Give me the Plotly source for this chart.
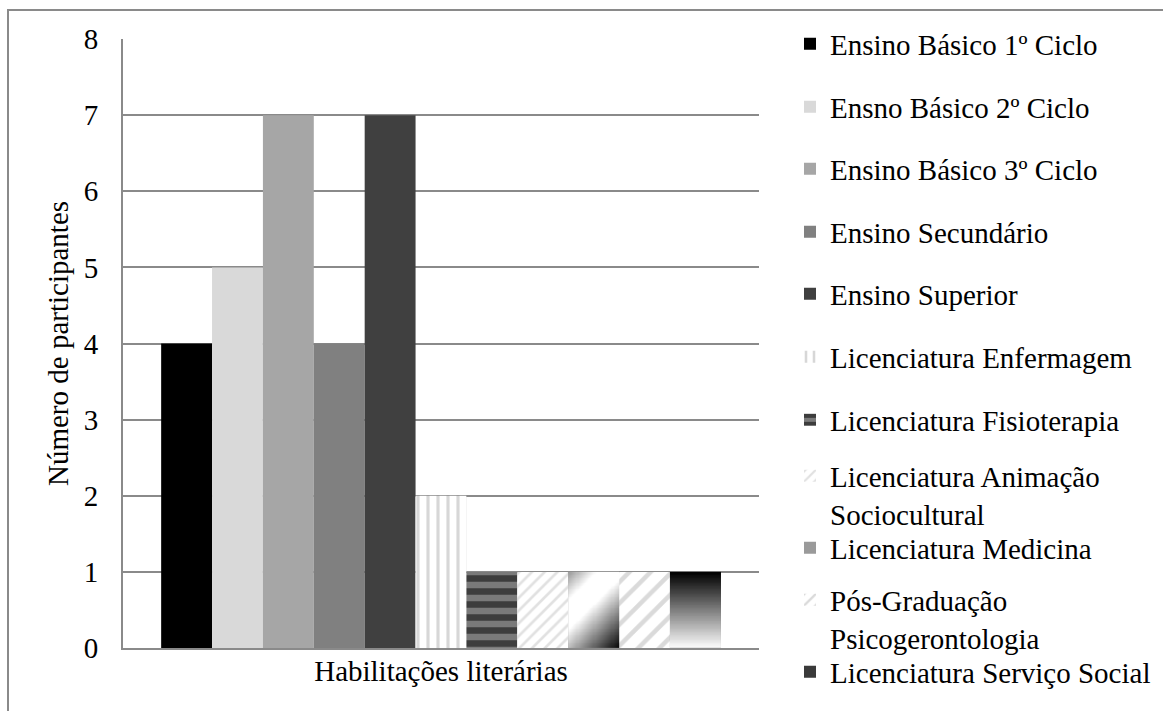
import numpy as np
import plotly.graph_objects as go

# ---- data -------------------------------------------------------------
category_label = "Habilitações literárias"
series_names = [
    "Ensino Básico 1º Ciclo",
    "Ensno Básico 2º Ciclo",
    "Ensino Básico 3º Ciclo",
    "Ensino Secundário",
    "Ensino Superior",
    "Licenciatura Enfermagem",
    "Licenciatura Fisioterapia",
    "Licenciatura Animação<br>Sociocultural",
    "Licenciatura Medicina",
    "Pós-Graduação<br>Psicogerontologia",
    "Licenciatura Serviço Social",
]
series_values = [4, 5, 7, 4, 7, 2, 1, 1, 1, 1, 1]
y_tick_values = [0, 1, 2, 3, 4, 5, 6, 7, 8]

# ---- styles -----------------------------------------------------------
FONT = "Liberation Serif, Times New Roman, serif"
FS = 29
GRID = "#8a8a8a"

bar_colors = ["#000000", "#d9d9d9", "#a6a6a6", "#808080", "#404040",
              "#ffffff", "#808080", "#ffffff", "#9a9a9a", "#ffffff", "#3a3a3a"]
bar_patterns = [
    None, None, None, None, None,
    dict(shape="|", fgcolor="#b0b0b0", bgcolor="#ffffff", size=10, solidity=0.32),
    dict(shape="-", fgcolor="#000000", bgcolor="#7a7a7a", size=13, solidity=0.5),
    dict(shape="/", fgcolor="#c4c4c4", bgcolor="#ffffff", size=9, solidity=0.3),
    None,
    dict(shape="/", fgcolor="#b5b5b5", bgcolor="#ffffff", size=15, solidity=0.3),
    None,
]
# gradient-filled series: index -> kind
gradient_series = {8: "diagonal", 10: "vertical"}

# pixel geometry of the plotting area
W, H = 1163, 711
ML, MR, MT, MB = 123, 404, 39, 63
PW, PH = W - ML - MR, H - MT - MB
x_range = [-1.25, 10 + 1.25]
y_range = [0, 8]

# first-line centre of each legend entry (px from top)
legend_rows = [44, 107, 169, 232, 294, 357, 420, 476, 548, 600, 672]
legend_left_px = 790
LINE_STEP = 1.3 * FS  # plotly line height for multi-line legend text


def px_to_paper_x(px):
    return (px - ML) / PW


def px_to_paper_y(py):
    return (H - MB - py) / PH


fig = go.Figure()

for k, (name, val) in enumerate(zip(series_names, series_values)):
    marker = dict(color=bar_colors[k], line=dict(width=0))
    if bar_patterns[k] is not None:
        marker["pattern"] = bar_patterns[k]
    fig.add_trace(go.Bar(
        x=[k], y=[val], width=1, name=name, marker=marker,
        legend="legend" if k == 0 else f"legend{k + 1}",
        hoverinfo="name+y",
    ))

# gradient fills drawn on an overlaid axis pair so they sit above the bars
unit_px = PW / (x_range[1] - x_range[0])
for k, kind in gradient_series.items():
    val = series_values[k]
    n = 48
    xe = np.linspace(k - 0.5, k + 0.5, n + 1)
    ye = np.linspace(0, val, n + 1)
    u = (np.arange(n) + 0.5) / n
    uu, ww = np.meshgrid(u, u)  # uu: left->right, ww: bottom->top
    if kind == "diagonal":
        bw, bh = unit_px, val * PH / (y_range[1] - y_range[0])
        z = (uu * bw + (1 - ww) * bh) / (bw + bh)
        cs = [[0, "#9a9a9a"], [0.22, "#ffffff"], [0.45, "#ffffff"], [1, "#000000"]]
    else:
        z = ww  # dark at the top, fading to white at the base
        cs = [[0, "#ffffff"], [1, "#000000"]]
    fig.add_trace(go.Heatmap(
        x=xe, y=ye, z=z, colorscale=cs, zmin=0, zmax=1, zsmooth="best",
        showscale=False, hoverinfo="skip", showlegend=False,
        xaxis="x2", yaxis="y2",
    ))

axis_font = dict(family=FONT, size=FS, color="#000000")

layout = dict(
    width=W, height=H,
    margin=dict(l=ML, r=MR, t=MT, b=MB, pad=0, autoexpand=False),
    paper_bgcolor="#ffffff", plot_bgcolor="#ffffff",
    barmode="overlay",
    font=axis_font,
    xaxis=dict(
        range=x_range, tickvals=[5], ticktext=[category_label],
        showgrid=False, zeroline=False, showline=True, linecolor=GRID, linewidth=2,
        ticks="", tickfont=axis_font, ticklabelstandoff=-4, automargin=False,
    ),
    yaxis=dict(
        range=y_range, tickvals=y_tick_values, showgrid=True, gridcolor=GRID,
        gridwidth=1.5, zeroline=False, showline=True, linecolor=GRID, linewidth=2,
        ticks="", tickfont=axis_font, ticklabelstandoff=17, automargin=False,
        title=dict(text="Número de participantes", font=axis_font, standoff=7),
    ),
    xaxis2=dict(range=x_range, overlaying="x", visible=False),
    yaxis2=dict(range=y_range, overlaying="y", visible=False),
    shapes=[dict(
        type="rect", xref="paper", yref="paper",
        x0=px_to_paper_x(8), x1=px_to_paper_x(1190),
        y0=px_to_paper_y(740), y1=px_to_paper_y(10),
        line=dict(color=GRID, width=2), fillcolor="rgba(0,0,0,0)", layer="below",
    )],
    showlegend=True,
)

for k, name in enumerate(series_names):
    key = "legend" if k == 0 else f"legend{k + 1}"
    extra_lines = name.count("<br>")
    cy = legend_rows[k] + extra_lines * LINE_STEP / 2
    layout[key] = dict(
        x=px_to_paper_x(legend_left_px), xanchor="left",
        y=px_to_paper_y(cy), yanchor="middle",
        font=axis_font, bgcolor="rgba(0,0,0,0)", borderwidth=0,
        valign="top", itemclick=False, itemdoubleclick=False,
    )

fig.update_layout(**layout)
fig.write_html("out.html")
